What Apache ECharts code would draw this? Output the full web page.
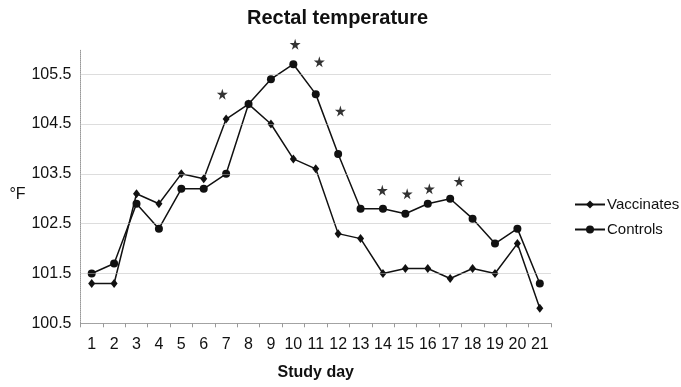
<!DOCTYPE html>
<html>
<head>
    <meta charset="utf-8">
    <title>Rectal temperature</title>
    <script src="https://cdn.jsdelivr.net/npm/echarts@6/dist/echarts.min.js"></script>
    <style type="text/css">
    html,body{margin:0;padding:0;background:#fff;}
    #main{width:681px;height:387px;}
    </style>
</head>
<body>
    <div id="main"></div>
    <script>
    // study days
    var days = ['1','2','3','4','5','6','7','8','9','10','11','12','13','14','15','16','17','18','19','20','21'];
    // rectal temperature, °F
    var vaccinates = [101.3,101.3,103.1,102.9,103.5,103.4,104.6,104.9,104.5,103.8,103.6,102.3,102.2,101.5,101.6,101.6,101.4,101.6,101.5,102.1,100.8];
    var controls   = [101.5,101.7,102.9,102.4,103.2,103.2,103.5,104.9,105.4,105.7,105.1,103.9,102.8,102.8,102.7,102.9,103.0,102.6,102.1,102.4,101.3];
    // significance stars (day position, height)
    var starDays   = [6.83,10.08,11.16,12.1,13.97,15.08,16.07,17.4];
    var starValues = [105.1,106.1,105.75,104.76,103.17,103.1,103.2,103.35];
    // y tick labels / grid lines
    var yTicks = [101.5,102.5,103.5,104.5,105.5];

    var starPath = 'path://M50,0 L61,35 L98,35 L68,57 L79,91 L50,70 L21,91 L32,57 L2,35 L39,35 Z';
    var font = 'Liberation Sans, Arial, sans-serif';

    var chart = echarts.init(document.getElementById('main'));

    var stars = [];
    for (var i = 0; i < starDays.length; i++) {
        stars.push([starDays[i], starValues[i]]);
    }
    var gridLines = [];
    for (var j = 0; j < yTicks.length; j++) {
        gridLines.push({yAxis: yTicks[j]});
    }

    var option = {
        backgroundColor: '#fff',
        animation: false,
        title: {
            text: 'Rectal temperature',
            left: 242,
            top: 3,
            textStyle: {fontFamily: font, fontSize: 20, fontWeight: 'bold', color: '#111'}
        },
        legend: {
            data: ['Vaccinates', 'Controls'],
            orient: 'vertical',
            left: 569,
            top: 192,
            itemWidth: 30,
            itemHeight: 10,
            itemGap: 10,
            textStyle: {fontFamily: font, fontSize: 15, color: '#111', padding: [0, 0, 0, -3]}
        },
        grid: {left: 80.5, right: 130, top: 49.3, bottom: 63.7, containLabel: false},
        xAxis: [{
            type: 'category',
            data: days,
            boundaryGap: true,
            name: 'Study day',
            nameLocation: 'middle',
            nameGap: 41,
            nameTextStyle: {fontFamily: font, fontSize: 16, fontWeight: 'bold', color: '#111'},
            axisLine: {lineStyle: {color: '#999', type: 'dotted'}},
            axisTick: {show: true, length: 4, lineStyle: {color: '#999'}},
            axisLabel: {fontFamily: font, fontSize: 16, color: '#111', margin: 13, interval: 0}
        }, {
            type: 'value',
            min: 0.5,
            max: 21.5,
            show: false
        }],
        yAxis: {
            type: 'value',
            min: 100.5,
            max: 106,
            interval: 0.5,
            name: '°F',
            nameLocation: 'middle',
            nameRotate: 0,
            nameGap: 50,
            nameTextStyle: {fontFamily: font, fontSize: 16, color: '#111', verticalAlign: 'top'},
            axisLine: {show: true, lineStyle: {color: '#999', type: 'dotted'}},
            axisTick: {show: false},
            splitLine: {show: false},
            axisLabel: {
                fontFamily: font, fontSize: 16, color: '#111', margin: 9,
                formatter: function (v) {
                    return (Math.round(v * 2) % 2 === 1) ? v.toFixed(1) : '';
                }
            }
        },
        series: [{
            name: 'grid',
            type: 'line',
            data: [],
            silent: true,
            z: 1,
            markLine: {
                silent: true,
                symbol: 'none',
                label: {show: false},
                lineStyle: {color: '#bbb', type: 'dotted', width: 1},
                data: gridLines
            }
        }, {
            name: 'Vaccinates',
            type: 'line',
            data: vaccinates,
            symbol: 'diamond',
            symbolSize: [7, 9],
            z: 3,
            lineStyle: {color: '#111', width: 1.5},
            itemStyle: {color: '#111'}
        }, {
            name: 'Controls',
            type: 'line',
            data: controls,
            symbol: 'circle',
            symbolSize: 8,
            z: 3,
            lineStyle: {color: '#111', width: 1.5},
            itemStyle: {color: '#111'}
        }, {
            name: 'stars',
            type: 'scatter',
            xAxisIndex: 1,
            clip: false,
            data: stars,
            symbol: starPath,
            symbolSize: 11,
            itemStyle: {color: '#000'}
        }]
    };

    chart.setOption(option);
    </script>
</body>
</html>
